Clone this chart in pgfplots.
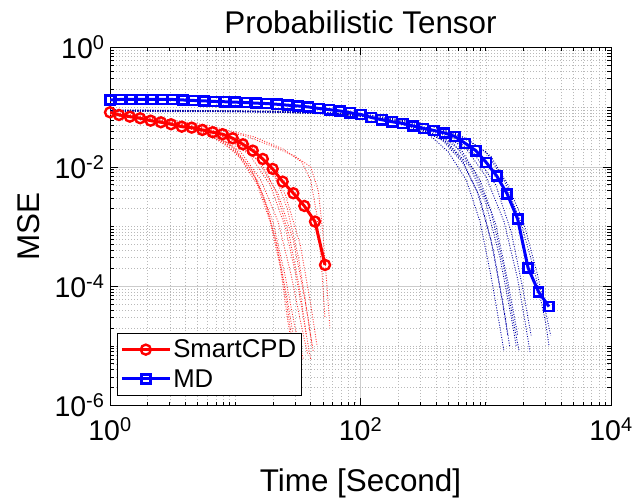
\documentclass[border=0pt]{standalone}
\usepackage{fontspec}
\setmainfont{Liberation Sans}
\usepackage{pgfplots}
\pgfplotsset{compat=1.18}
\begin{document}
\begin{tikzpicture}
\path[use as bounding box] (0,0) rectangle (636pt,500pt);
\begin{axis}[
  at={(110pt,94.5pt)}, anchor=south west,
  scale only axis, width=501pt, height=358pt,
  xmode=log, ymode=log,
  xmin=1, xmax=10000, ymin=1e-6, ymax=1,
  axis line style={black, line width=0.8pt},
  xtick={1,100,10000},
  xticklabels={10\textsuperscript{0},10\textsuperscript{2},10\textsuperscript{4}},
  ytick={1e-6,1e-4,1e-2,1},
  yticklabels={10\textsuperscript{-6},10\textsuperscript{-4},10\textsuperscript{-2},10\textsuperscript{0}},
  minor xtick={2,3,4,5,6,7,8,9,10,20,30,40,50,60,70,80,90,200,300,400,500,600,700,800,900,1000,2000,3000,4000,5000,6000,7000,8000,9000},
  minor ytick={2e-6,3e-6,4e-6,5e-6,6e-6,7e-6,8e-6,9e-6,1e-5,2e-5,3e-5,4e-5,5e-5,6e-5,7e-5,8e-5,9e-5,2e-4,3e-4,4e-4,5e-4,6e-4,7e-4,8e-4,9e-4,1e-3,2e-3,3e-3,4e-3,5e-3,6e-3,7e-3,8e-3,9e-3,2e-2,3e-2,4e-2,5e-2,6e-2,7e-2,8e-2,9e-2,0.1,0.2,0.3,0.4,0.5,0.6,0.7,0.8,0.9},
  grid=both,
  major grid style={gray!40, line width=0.6pt},
  minor grid style={gray!55, line width=0.5pt, dash pattern=on 1pt off 2pt},
  major tick length=8pt, minor tick length=4pt,
  tick style={black, line width=0.6pt},
  ticklabel style={font=\fontsize{28.5}{32}\selectfont},
  xticklabel style={yshift=-9pt},
  yticklabel style={xshift=-2pt},
  title={Probabilistic Tensor},
  title style={font=\fontsize{31.4}{36}\selectfont, at={(axis description cs:0.5,1)}, anchor=base, yshift=8pt},
  xlabel={Time [Second]},
  xlabel style={font=\fontsize{31.4}{36}\selectfont, at={(axis description cs:0.5,-0.24)}, anchor=base},
  ylabel={MSE},
  ylabel style={font=\fontsize{31.4}{36}\selectfont, at={(axis description cs:-0.14,0.5)}, anchor=base},
  legend style={at={(0.014,0.027)}, anchor=south west, draw=black, line width=0.6pt, fill=white,
    font=\fontsize{25.7}{30}\selectfont, inner xsep=3pt, inner ysep=5pt, row sep=6pt},
  legend cell align=left,
  legend image code/.code={\draw[mark repeat=2,mark phase=2] plot coordinates {(0pt,0pt) (24pt,0pt) (48pt,0pt)};},
  runr/.style={red!80, line width=0.9pt, dash pattern=on 0.9pt off 1.6pt, forget plot},
  runb/.style={blue!65!black, line width=0.9pt, dash pattern=on 0.9pt off 1.6pt, forget plot},
]
% ---- individual SmartCPD runs (dotted) ----
\addplot[runr] coordinates {(1,0.08)(3,0.055)(6,0.038)(10,0.02)(14,0.008)(18,0.002)(22,4e-4)(26,6e-5)(30,1e-5)(33,5e-6)};
\addplot[runr] coordinates {(1,0.078)(3,0.054)(6,0.036)(10,0.018)(15,0.006)(20,0.0012)(25,1.5e-4)(30,2e-5)(35,6e-6)};
\addplot[runr] coordinates {(1,0.082)(3,0.057)(7,0.035)(11,0.018)(16,0.006)(22,0.0012)(28,1.5e-4)(34,2e-5)(38,7e-6)};
\addplot[runr] coordinates {(1,0.076)(3,0.052)(6,0.037)(9,0.024)(13,0.01)(17,0.003)(21,6e-4)(25,8e-5)(28,1.5e-5)};
\addplot[runr] coordinates {(1,0.08)(4,0.05)(8,0.032)(13,0.016)(19,0.005)(25,0.001)(31,1.3e-4)(37,1.5e-5)(40,6e-6)};
\addplot[runr] coordinates {(1,0.079)(4,0.05)(9,0.03)(15,0.013)(22,0.0035)(29,6e-4)(36,6e-5)(42,8e-6)};
\addplot[runr] coordinates {(1,0.081)(4,0.052)(10,0.03)(17,0.013)(25,0.0035)(33,5e-4)(40,5e-5)(45,1e-5)};
\addplot[runr] coordinates {(1,0.083)(5,0.05)(12,0.033)(20,0.022)(30,0.015)(40,0.01)(46,0.004)(50,8e-4)(54,1e-4)(57,2e-5)};
\addplot[runr] coordinates {(1,0.084)(6,0.05)(14,0.032)(24,0.02)(34,0.012)(40,0.006)(45,0.0015)(49,2e-4)(52,3e-5)};
\addplot[runr] coordinates {(1,0.077)(3,0.053)(5,0.04)(8,0.026)(11,0.014)(15,0.005)(19,0.0012)(23,2e-4)(26,3e-5)(28,1.2e-5)};
\addplot[runr] coordinates {(1,0.08)(5,0.045)(10,0.027)(16,0.012)(21,0.004)(27,7e-4)(33,8e-5)(37,1.5e-5)};
\addplot[runr] coordinates {(1,0.082)(6,0.044)(13,0.024)(20,0.009)(26,0.002)(32,3e-4)(38,3e-5)(41,1e-5)};
% ---- individual MD runs (dotted) ----
\addplot[runb] coordinates {(1,0.088)(10,0.086)(50,0.08)(100,0.072)(200,0.055)(350,0.035)(500,0.018)(700,0.006)(900,0.0012)(1100,1.5e-4)(1300,2e-5)(1400,8e-6)};
\addplot[runb] coordinates {(1,0.086)(10,0.085)(50,0.079)(100,0.072)(250,0.05)(450,0.03)(650,0.013)(900,0.003)(1150,4e-4)(1400,4e-5)(1550,1e-5)};
\addplot[runb] coordinates {(1,0.09)(10,0.087)(60,0.08)(150,0.066)(300,0.045)(550,0.025)(800,0.009)(1100,0.0018)(1400,2e-4)(1700,2e-5)(1850,8e-6)};
\addplot[runb] coordinates {(1,0.087)(10,0.085)(60,0.078)(150,0.064)(300,0.043)(500,0.025)(750,0.01)(1000,0.0025)(1300,3e-4)(1600,3e-5)(1750,1e-5)};
\addplot[runb] coordinates {(1,0.089)(20,0.085)(80,0.077)(200,0.06)(400,0.04)(700,0.02)(1000,0.007)(1400,0.0012)(1800,1.3e-4)(2100,2e-5)(2250,8e-6)};
\addplot[runb] coordinates {(1,0.085)(20,0.083)(100,0.073)(250,0.055)(500,0.035)(800,0.017)(1200,0.005)(1600,8e-4)(2000,8e-5)(2300,1.5e-5)};
\addplot[runb] coordinates {(1,0.09)(30,0.085)(100,0.077)(300,0.055)(600,0.035)(1000,0.018)(1400,0.006)(1900,0.0012)(2500,1.5e-4)(3000,2.5e-5)(3200,1e-5)};
\addplot[runb] coordinates {(1,0.088)(30,0.084)(120,0.074)(350,0.05)(700,0.03)(1100,0.015)(1500,0.005)(2000,0.0012)(2600,1.5e-4)(3300,1.5e-5)};
\addplot[runb] coordinates {(1,0.087)(10,0.085)(40,0.08)(120,0.068)(250,0.05)(450,0.028)(650,0.012)(850,0.004)(1100,6e-4)(1350,6e-5)(1500,1.5e-5)};
\addplot[runb] coordinates {(1,0.086)(20,0.084)(80,0.076)(200,0.058)(400,0.037)(650,0.018)(900,0.006)(1200,0.0011)(1500,1.2e-4)(1800,1.5e-5)};
% ---- SmartCPD mean ----
\addplot[red, line width=3pt, mark=o, mark size=5pt, mark options={line width=2.4pt}] coordinates {
(1,0.082)(1.18,0.074)(1.44,0.0693)(1.74,0.0652)(2.11,0.0594)(2.55,0.0558)(3.07,0.0517)(3.74,0.0471)(4.49,0.0454)(5.46,0.0415)(6.61,0.038)(7.94,0.0352)(9.55,0.0301)(11.5,0.0239)(13.8,0.0187)(16.6,0.01356)(19.9,0.00923)(23.9,0.00565)(29.1,0.00361)(35.6,0.00221)(43.3,0.00121)(52.1,0.000227)};
\addlegendentry{SmartCPD}
% ---- MD mean ----
\addplot[blue, line width=3pt, mark=square, mark size=4.6pt, mark options={line width=2.6pt}] coordinates {
(1,0.132)(1.2118,0.1346)(1.4685,0.1346)(1.7796,0.1346)(2.1566,0.1346)(2.6134,0.1346)(3.167,0.1346)(3.8379,0.132)(4.6509,0.1295)(5.6361,0.1275)(6.83,0.1246)(8.277,0.1232)(10.03,0.1213)(12.15,0.1194)(14.73,0.1167)(17.85,0.1149)(21.63,0.1118)(26.21,0.108)(31.77,0.1047)(38.49,0.1008)(46.65,0.0951)(56.53,0.0908)(68.51,0.0864)(83.02,0.0806)(100.6,0.0754)(121.9,0.0672)(147.8,0.0615)(179.1,0.0569)(217,0.0533)(263,0.0484)(318.7,0.044)(386.2,0.0407)(468,0.037)(567.2,0.0323)(687.3,0.0247)(832.9,0.0187)(1009,0.01185)(1223,0.00704)(1482,0.00352)(1796,0.00134)(2177,0.000203)(2638,8.03e-5)(3197,4.55e-5)};
\addlegendentry{MD}
\end{axis}
\end{tikzpicture}
\end{document}
